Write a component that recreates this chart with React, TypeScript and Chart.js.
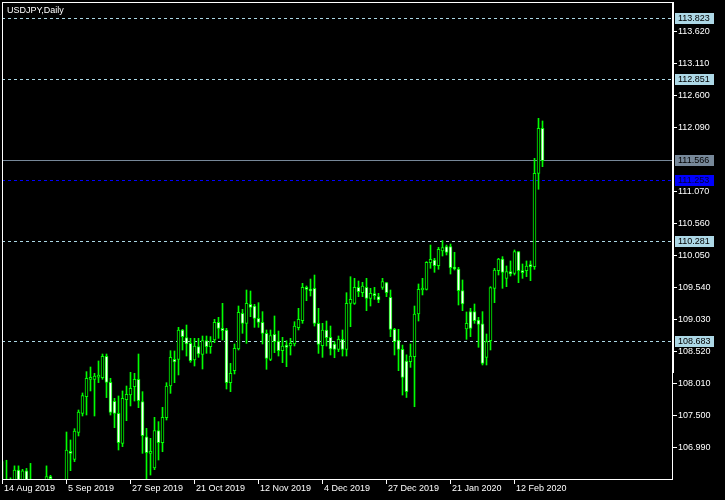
import React, { useEffect, useRef } from 'react';
import { Chart, registerables } from 'chart.js';

Chart.register(...registerables);

// USDJPY daily, 14 Aug 2019 .. 21 Feb 2020 (136 bars)
const opens = [
  106.40, 105.95, 106.20, 106.30, 106.635, 106.35, 106.62, 106.30, 105.40, 105.35,
  105.80, 106.10, 106.523, 106.30, 105.95, 106.30, 106.40, 106.932, 106.805, 107.235,
  107.538, 107.804, 108.08, 108.08, 108.112, 108.106, 108.446, 108.032, 107.729, 107.538,
  107.06, 107.756, 107.83, 107.963, 108.08, 107.723, 107.165, 106.90, 106.666, 107.261,
  107.07, 107.468, 107.973, 108.398, 108.398, 108.866, 108.744, 108.653, 108.388, 108.60,
  108.478, 108.696, 108.60, 108.706, 108.988, 108.892, 108.866, 108.026, 108.218, 108.563,
  109.131, 108.972, 109.275, 109.248, 109.052, 108.988, 108.813, 108.398, 108.797, 108.69,
  108.536, 108.626, 108.61, 108.642, 108.903, 109.014, 109.545, 109.519, 109.529, 108.972,
  108.616, 108.865, 108.749, 108.642, 108.557, 108.717, 108.557, 109.29, 109.29, 109.545,
  109.46, 109.545, 109.37, 109.439, 109.397, 109.545, 109.62, 109.386, 108.876, 108.706,
  108.557, 108.372, 108.361, 108.44, 109.121, 109.503, 109.514, 109.939, 109.981, 109.891,
  110.125, 110.194, 110.194, 109.864, 109.838, 109.493, 108.882, 109.158, 109.158, 109.025,
  108.962, 108.43, 108.696, 109.53, 109.811, 109.997, 109.689, 109.795, 109.769, 110.114,
  109.795, 109.811, 109.886, 109.875, 111.363, 112.08,
];
const highs = [
  106.77, 106.79, 106.51, 106.70, 106.70, 106.645, 106.66, 106.74, 106.20, 105.90,
  106.30, 106.70, 106.55, 106.45, 106.35, 106.45, 107.24, 107.113, 107.293, 107.591,
  107.862, 108.202, 108.276, 108.175, 108.372, 108.483, 108.483, 108.096, 107.777, 107.814,
  107.894, 107.973, 108.191, 108.175, 108.483, 107.883, 107.298, 107.139, 107.474, 107.405,
  107.633, 108.026, 108.536, 108.531, 108.908, 108.876, 108.945, 108.733, 108.733, 108.733,
  108.77, 108.77, 108.76, 109.036, 109.068, 109.291, 108.892, 108.334, 108.643, 109.248,
  109.195, 109.503, 109.487, 109.275, 109.301, 109.158, 108.866, 108.866, 109.089, 108.849,
  108.749, 108.695, 108.733, 108.998, 109.211, 109.609, 109.567, 109.678, 109.742, 109.211,
  108.972, 109.009, 108.929, 108.68, 108.77, 108.866, 109.46, 109.715, 109.689, 109.646,
  109.625, 109.689, 109.53, 109.545, 109.45, 109.689, 109.625, 109.503, 108.892, 108.876,
  108.626, 108.47, 108.643, 109.248, 109.599, 109.689, 109.955, 110.22, 110.008, 110.183,
  110.289, 110.22, 110.236, 110.104, 109.864, 109.663, 109.153, 109.211, 109.28, 109.068,
  109.158, 108.802, 109.556, 109.848, 110.008, 110.035, 109.886, 109.966, 110.141, 110.114,
  109.918, 109.966, 109.966, 111.602, 112.239, 112.197,
];
const lows = [
  105.80, 105.75, 106.00, 106.10, 106.20, 106.15, 106.10, 105.20, 104.45, 105.20,
  105.70, 106.00, 106.10, 105.90, 105.85, 106.10, 106.30, 106.624, 106.768, 107.177,
  107.495, 107.511, 107.894, 107.495, 108.027, 108.08, 107.788, 107.511, 107.309, 106.953,
  107.007, 107.421, 107.655, 107.734, 107.628, 106.90, 106.45, 106.554, 106.64, 106.794,
  106.926, 107.431, 107.856, 108.026, 108.149, 108.547, 108.451, 108.35, 108.292, 108.43,
  108.244, 108.494, 108.494, 108.664, 108.733, 108.706, 107.925, 107.883, 108.165, 108.547,
  108.813, 108.653, 109.078, 108.908, 108.908, 108.643, 108.239, 108.377, 108.504, 108.451,
  108.345, 108.281, 108.467, 108.611, 108.866, 108.972, 109.333, 109.407, 108.929, 108.493,
  108.43, 108.61, 108.467, 108.424, 108.52, 108.451, 108.451, 108.919, 109.274, 109.397,
  109.397, 109.174, 109.248, 109.354, 109.301, 109.513, 109.397, 108.759, 108.467, 108.217,
  107.829, 107.79, 108.27, 107.643, 109.009, 109.424, 109.503, 109.849, 109.785, 109.833,
  110.045, 110.061, 109.758, 109.822, 109.264, 109.174, 108.717, 108.76, 108.972, 108.59,
  108.308, 108.308, 108.547, 109.301, 109.742, 109.53, 109.556, 109.726, 109.742, 109.62,
  109.689, 109.716, 109.652, 109.833, 111.108, 111.469,
];
const closes = [
  105.95, 106.20, 106.35, 106.635, 106.40, 106.62, 106.30, 105.40, 105.35, 105.80,
  106.10, 106.529, 106.497, 105.95, 106.30, 106.40, 106.953, 106.90, 107.256, 107.559,
  107.819, 108.096, 108.112, 108.133, 108.149, 108.446, 108.032, 107.554, 107.538, 107.07,
  107.777, 107.841, 107.936, 108.08, 107.74, 107.181, 106.91, 106.91, 107.261, 107.07,
  107.474, 107.973, 108.43, 108.356, 108.866, 108.76, 108.643, 108.377, 108.611, 108.483,
  108.696, 108.60, 108.68, 108.988, 108.892, 108.855, 108.026, 108.175, 108.573, 109.147,
  108.972, 109.291, 109.227, 109.052, 108.988, 108.813, 108.414, 108.775, 108.68, 108.536,
  108.611, 108.589, 108.653, 108.929, 109.036, 109.545, 109.513, 109.487, 108.972, 108.637,
  108.865, 108.743, 108.563, 108.557, 108.717, 108.557, 109.29, 109.354, 109.545, 109.476,
  109.567, 109.37, 109.45, 109.413, 109.344, 109.636, 109.46, 108.876, 108.68, 108.557,
  108.111, 107.883, 108.451, 109.121, 109.514, 109.53, 109.944, 109.992, 109.891, 110.151,
  110.178, 110.104, 109.859, 109.838, 109.493, 109.28, 108.972, 108.892, 109.014, 108.956,
  108.334, 108.68, 109.54, 109.822, 109.997, 109.785, 109.795, 109.758, 110.114, 109.811,
  109.78, 109.886, 109.875, 111.363, 112.08, 111.566,
];

const xTickLabels = [
  '14 Aug 2019', '5 Sep 2019', '27 Sep 2019', '21 Oct 2019', '12 Nov 2019',
  '4 Dec 2019', '27 Dec 2019', '21 Jan 2020', '12 Feb 2020',
];
const xTickIndex = [0, 16, 32, 48, 64, 80, 96, 112, 128];
const yTickValues = [
  113.62, 113.11, 112.6, 112.09, 111.07, 110.56, 110.05, 109.54, 109.03, 108.52,
  108.01, 107.5, 106.99,
];
const levelValues = [113.823, 112.851, 110.281, 108.683];
const bidValue = 111.566;
const blueLevel = 111.253;
const title = 'USDJPY,Daily';

const FONT = '9px "Liberation Sans", Arial, sans-serif';

const mtPlugin = {
  id: 'mtDecor',
  beforeDraw(chart: any) {
    const { ctx, width, height } = chart;
    ctx.save();
    ctx.fillStyle = '#000000';
    ctx.fillRect(0, 0, width, height);
    ctx.restore();
  },
  beforeDatasetsDraw(chart: any) {
    const { ctx, chartArea, scales } = chart;
    const y = scales.y;
    const { left, right } = chartArea;
    ctx.save();
    ctx.lineWidth = 1;
    ctx.setLineDash([3, 3]);
    ctx.strokeStyle = '#ADD8E6';
    for (const v of levelValues) {
      const py = Math.floor(y.getPixelForValue(v)) + 0.5;
      ctx.beginPath();
      ctx.moveTo(left, py);
      ctx.lineTo(right, py);
      ctx.stroke();
    }
    ctx.strokeStyle = '#0000FF';
    {
      const py = Math.floor(y.getPixelForValue(blueLevel)) + 0.5;
      ctx.beginPath();
      ctx.moveTo(left, py);
      ctx.lineTo(right, py);
      ctx.stroke();
    }
    ctx.setLineDash([]);
    ctx.strokeStyle = '#778899';
    {
      const py = Math.floor(y.getPixelForValue(bidValue)) + 0.5;
      ctx.beginPath();
      ctx.moveTo(left, py);
      ctx.lineTo(right, py);
      ctx.stroke();
    }
    ctx.restore();
  },
  afterDraw(chart: any) {
    const { ctx, chartArea, scales } = chart;
    const x = scales.x;
    const y = scales.y;
    const { left, right, top, bottom } = chartArea;
    ctx.save();
    ctx.fillStyle = '#FFFFFF';
    // frame
    ctx.fillRect(left, top, right - left + 1, 1);
    ctx.fillRect(left, top, 1, bottom - top);
    ctx.fillRect(left, bottom, right - left + 1, 1);
    ctx.fillRect(right, top, 1, bottom - top);
    ctx.fillRect(right, top, 2, 371);

    ctx.font = FONT;
    // y ticks
    ctx.textBaseline = 'middle';
    ctx.textAlign = 'left';
    for (const v of yTickValues) {
      const py = Math.floor(y.getPixelForValue(v));
      ctx.fillStyle = '#FFFFFF';
      ctx.fillRect(right, py, 5, 1);
      ctx.fillText(v.toFixed(3), right + 6, py + 1);
    }
    // level boxes
    const box = (v: number, bg: string, fg: string) => {
      const py = Math.floor(y.getPixelForValue(v));
      ctx.fillStyle = bg;
      ctx.fillRect(right + 3, py - 5, 39, 11);
      ctx.fillStyle = fg;
      ctx.fillText(v.toFixed(3), right + 6, py + 1);
    };
    for (const v of levelValues) box(v, '#ADD8E6', '#000000');
    box(bidValue, '#778899', '#000000');
    box(blueLevel, '#0000FF', '#00003A');

    // x ticks
    ctx.fillStyle = '#FFFFFF';
    ctx.textBaseline = 'alphabetic';
    xTickIndex.forEach((idx, k) => {
      const px = Math.floor(x.getPixelForValue(idx));
      ctx.fillRect(px, bottom + 1, 1, 4);
      ctx.fillText(xTickLabels[k], px + 2, bottom + 12);
    });

    // title
    ctx.fillText(title, left + 5, top + 11);
    ctx.restore();
  },
};

export default function App() {
  const ref = useRef<HTMLCanvasElement | null>(null);
  useEffect(() => {
    document.body.style.margin = '0';
    document.body.style.background = '#000';
    const canvas = ref.current;
    if (!canvas) return;
    const idx = opens.map((_, i) => i);
    const chart = new Chart(canvas, {
      type: 'bar',
      data: {
        datasets: [
          {
            label: 'wicks',
            data: idx.map((i) => ({ x: i, y: [lows[i], highs[i]] })) as any,
            backgroundColor: '#00FF00',
            borderWidth: 0,
            barThickness: 1,
            grouped: false,
            order: 2,
          } as any,
          {
            label: 'bodies',
            data: idx.map((i) => ({ x: i, y: [opens[i], closes[i]] })) as any,
            backgroundColor: idx.map((i) => (closes[i] >= opens[i] ? '#000000' : '#FFFFFF')),
            borderColor: '#00FF00',
            borderWidth: 1,
            borderSkipped: false,
            barThickness: 3,
            minBarLength: 2,
            grouped: false,
            order: 1,
          } as any,
        ],
      },
      options: {
        responsive: false,
        maintainAspectRatio: false,
        animation: false,
        devicePixelRatio: 1,
        layout: { padding: { left: 2, right: 53, top: 2, bottom: 21 } },
        plugins: { legend: { display: false }, tooltip: { enabled: false }, title: { display: false } },
        scales: {
          x: { type: 'linear', display: false, min: -0.125, max: 167.375, offset: false },
          y: { type: 'linear', display: false, min: 106.491, max: 114.093, beginAtZero: false },
        },
        events: [],
      } as any,
      plugins: [mtPlugin],
    });
    return () => chart.destroy();
  }, []);
  return <canvas ref={ref} width={725} height={500} style={{ display: 'block' }} />;
}
